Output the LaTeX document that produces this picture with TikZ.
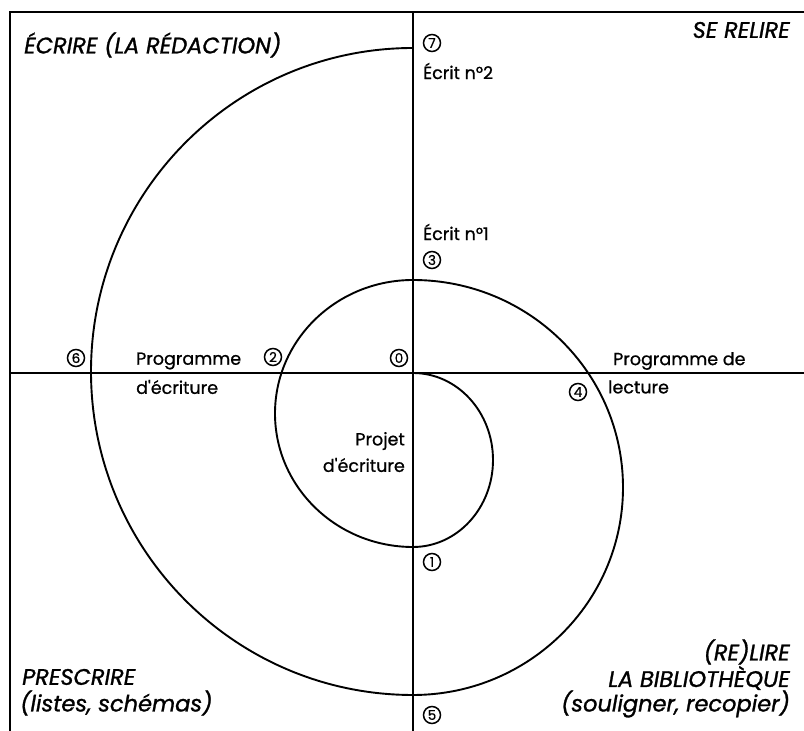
\documentclass[tikz,border=0pt]{standalone}
\usepackage{fontspec}
\setmainfont{Poppins}
\newfontfamily\headfont[FakeBold=1.2]{Poppins}
\newfontfamily\labfont[FakeBold=0.8]{Poppins}
\begin{document}
\begin{tikzpicture}[x=1pt,y=1pt,
  axisline/.style={line width=2.8pt},
  spiral/.style={line width=1.9pt},
  num/.style={circle,draw,line width=1.5pt,inner sep=0pt,minimum size=17pt,font=\labfont\fontsize{13.5}{13.5}\selectfont},
  big/.style={inner sep=0pt,font=\headfont\fontsize{22.5}{24}\selectfont\itshape},
  small/.style={inner sep=0pt,font=\labfont\fontsize{17.5}{18}\selectfont}]
\useasboundingbox (0,0) rectangle (804,731);
% frame and axes
\coordinate (tl) at (10,719);
\coordinate (tr) at (804,719);
\coordinate (bl) at (10,0);
\coordinate (vt) at (413,719);
\coordinate (vb) at (413,0);
\coordinate (hl) at (10,358);
\coordinate (hr) at (804,358);
\draw[axisline] (bl) -- (tl) -- (tr);
\draw[axisline] (vt) -- (vb);
\draw[axisline] (hl) -- (hr);
% spiral
\coordinate (o) at (413,358);
\draw[spiral] (o)
  arc[start angle=90,end angle=-90,x radius=80,y radius=87]
  arc[start angle=-90,end angle=-270,x radius=138,y radius=133.5]
  arc[start angle=90,end angle=-90,x radius=210,y radius=207.5]
  arc[start angle=-90,end angle=-270,x radius=322,y radius=323.5];
% numbers
\node[num] (n0) at (399,373) {0};
\node[num] (n1) at (432,169) {1};
\node[num] (n2) at (273,374) {2};
\node[num] (n3) at (432,471) {3};
\node[num] (n4) at (578,339) {4};
\node[num] (n5) at (432,16) {5};
\node[num] (n6) at (76,373) {6};
\node[num] (n7) at (432,688) {7};
% headings
\node[big,anchor=west] (ecrire) at (24,686) {ÉCRIRE (LA RÉDACTION)};
\node[big,anchor=east] (relire) at (790,701) {SE RELIRE};
\node[big,anchor=west] (prescrire) at (22,54) {PRESCRIRE};
\node[big,anchor=west] (listes) at (20,28) {(listes, schémas)};
\node[big,anchor=east] (relire2) at (790,79) {(RE)LIRE};
\node[big,anchor=east] (biblio) at (790,53) {LA BIBLIOTHÈQUE};
\node[big,anchor=east] (souligner) at (790,27) {(souligner, recopier)};
% small labels
\node[small,anchor=west] (e2) at (423,660) {Écrit n°2};
\node[small,anchor=west] (e1) at (423,499) {Écrit n°1};
\node[small,anchor=west] (pe1) at (136,370) {Programme};
\node[small,anchor=west] (pe2) at (136,344) {d'écriture};
\node[small,anchor=west] (pl1) at (613,370) {Programme de};
\node[small,anchor=west] (pl2) at (608,344) {lecture};
\node[small,anchor=east] (pj1) at (405,290) {Projet};
\node[small,anchor=east] (pj2) at (405,266) {d'écriture};
\end{tikzpicture}
\end{document}
